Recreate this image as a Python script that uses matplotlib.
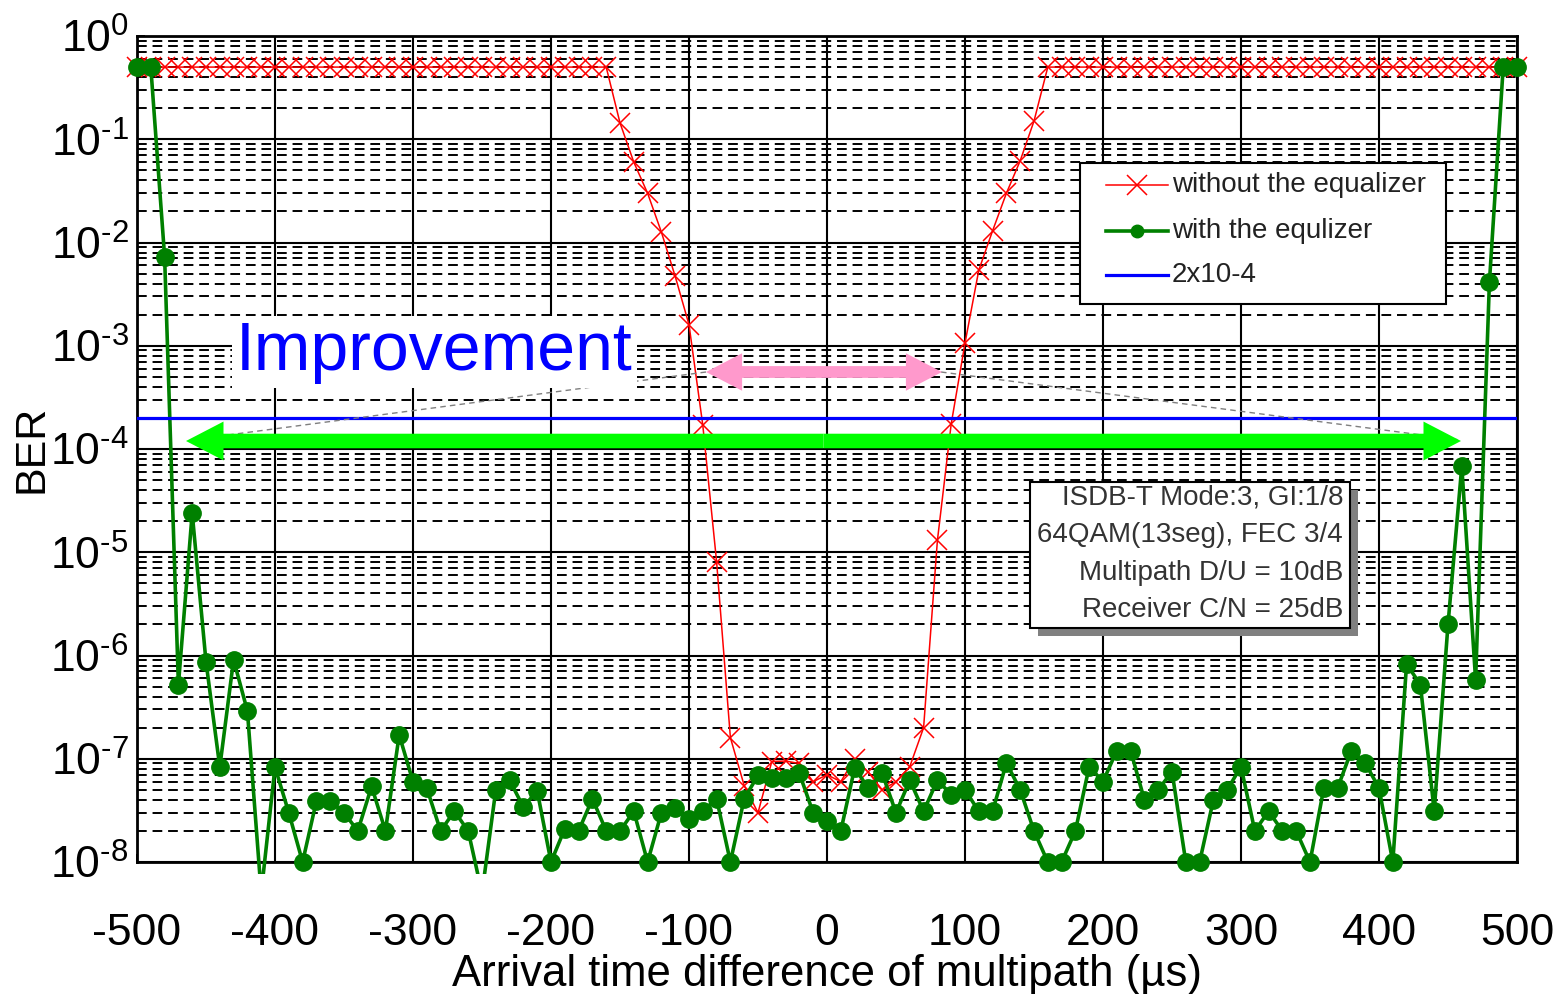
import numpy as np
import matplotlib
matplotlib.use('Agg')
import matplotlib.pyplot as plt
from matplotlib.patches import FancyArrowPatch, Rectangle
from matplotlib.lines import Line2D
from matplotlib.ticker import FixedLocator, NullLocator, LogLocator, NullFormatter

plt.rcParams['font.family'] = ['Liberation Sans', 'DejaVu Sans']
plt.rcParams['mathtext.fontset'] = 'custom'
plt.rcParams['mathtext.rm'] = 'Liberation Sans'
plt.rcParams['mathtext.it'] = 'Liberation Sans:italic'
plt.rcParams['mathtext.bf'] = 'Liberation Sans:bold'
plt.rcParams['mathtext.default'] = 'regular'

# ---------------- data ----------------
delay_us = [-500, -490, -480, -470, -460, -450, -440, -430, -420, -410,
            -400, -390, -380, -370, -360, -350, -340, -330, -320, -310,
            -300, -290, -280, -270, -260, -250, -240, -230, -220, -210,
            -200, -190, -180, -170, -160, -150, -140, -130, -120, -110,
            -100, -90, -80, -70, -60, -50, -40, -30, -20, -10,
            0, 10, 20, 30, 40, 50, 60, 70, 80, 90,
            100, 110, 120, 130, 140, 150, 160, 170, 180, 190,
            200, 210, 220, 230, 240, 250, 260, 270, 280, 290,
            300, 310, 320, 330, 340, 350, 360, 370, 380, 390,
            400, 410, 420, 430, 440, 450, 460, 470, 480, 490, 500]

ber_without_eq = [0.5, 0.5, 0.5, 0.5, 0.5, 0.5, 0.5, 0.5, 0.5, 0.5,
                  0.5, 0.5, 0.5, 0.5, 0.5, 0.5, 0.5, 0.5, 0.5, 0.5,
                  0.5, 0.5, 0.5, 0.5, 0.5, 0.5, 0.5, 0.5, 0.5, 0.5,
                  0.5, 0.5, 0.5, 0.5, 0.5, 0.144, 0.060, 0.030, 0.0126, 0.0047,
                  0.0016, 1.7e-4, 8.1e-6, 1.6e-7, 5.5e-8, 3.0e-8, 9.4e-8, 9.5e-8, 9.0e-8, 6.0e-8,
                  7.0e-8, 6.0e-8, 1.0e-7, 7.4e-8, 5.0e-8, 6.0e-8, 8.4e-8, 2.0e-7, 1.3e-5, 1.75e-4,
                  1.06e-3, 5.4e-3, 0.013, 0.030, 0.062, 0.15, 0.5, 0.5, 0.5, 0.5,
                  0.5, 0.5, 0.5, 0.5, 0.5, 0.5, 0.5, 0.5, 0.5, 0.5,
                  0.5, 0.5, 0.5, 0.5, 0.5, 0.5, 0.5, 0.5, 0.5, 0.5,
                  0.5, 0.5, 0.5, 0.5, 0.5, 0.5, 0.5, 0.5, 0.5, 0.5, 0.5]

# values below 1e-8 (off the chart bottom) are drawn only as a line going down
ber_with_eq = [0.5, 0.5, 7.3e-3, 5.2e-7, 2.4e-5, 8.7e-7, 8.3e-8, 9.1e-7, 2.9e-7, 5e-9,
               8.3e-8, 3.0e-8, 1.0e-8, 3.9e-8, 3.9e-8, 3.0e-8, 2.0e-8, 5.4e-8, 2.0e-8, 1.7e-7,
               6.0e-8, 5.2e-8, 2.0e-8, 3.1e-8, 2.0e-8, 5e-9, 5.0e-8, 6.2e-8, 3.4e-8, 4.9e-8,
               1.0e-8, 2.1e-8, 2.0e-8, 4.1e-8, 2.0e-8, 2.0e-8, 3.1e-8, 1.0e-8, 3.0e-8, 3.3e-8,
               2.6e-8, 3.1e-8, 4.1e-8, 1.0e-8, 4.1e-8, 6.9e-8, 6.5e-8, 6.5e-8, 7.2e-8, 3.0e-8,
               2.5e-8, 2.0e-8, 8.1e-8, 5.2e-8, 7.2e-8, 3.0e-8, 6.2e-8, 3.1e-8, 6.2e-8, 4.5e-8,
               5.0e-8, 3.1e-8, 3.1e-8, 9.1e-8, 5.0e-8, 2.0e-8, 1.0e-8, 1.0e-8, 2.0e-8, 8.4e-8,
               6.0e-8, 1.2e-7, 1.2e-7, 4.0e-8, 5.0e-8, 7.5e-8, 1.0e-8, 1.0e-8, 4.0e-8, 5.0e-8,
               8.4e-8, 2.0e-8, 3.1e-8, 2.0e-8, 2.0e-8, 1.0e-8, 5.2e-8, 5.2e-8, 1.2e-7, 9.1e-8,
               5.2e-8, 1.0e-8, 8.3e-7, 5.2e-7, 3.1e-8, 2.0e-6, 6.8e-5, 5.8e-7, 4.1e-3, 0.5, 0.5]

threshold_ber = 2e-4
threshold_x = [-500, 500]

series_labels = ['without the equalizer', 'with the equlizer', '2x10-4']
xtick_values = [-500, -400, -300, -200, -100, 0, 100, 200, 300, 400, 500]
xtick_labels = ['-500', '-400', '-300', '-200', '-100', '0', '100', '200', '300', '400', '500']
ytick_exponents = [0, -1, -2, -3, -4, -5, -6, -7, -8]
info_lines = ['ISDB-T Mode:3, GI:1/8', '64QAM(13seg), FEC 3/4',
              'Multipath D/U = 10dB', 'Receiver C/N = 25dB']
annotation_text = 'Improvement'

# ---------------- layout ----------------
W, H = 1566, 994
fig = plt.figure(figsize=(W / 100, H / 100), dpi=100)
def fx(px):
    return px / W
def fy(py):
    return 1 - py / H

ax = fig.add_axes([fx(137), fy(862), fx(1517) - fx(137), fy(36) - fy(862)])
ax.set_yscale('log', nonpositive='clip')
ax.set_xlim(-500, 500)
ax.set_ylim(1e-8, 1)

# grid
ax.xaxis.set_major_locator(FixedLocator(xtick_values))
ax.xaxis.set_minor_locator(NullLocator())
ax.yaxis.set_major_locator(FixedLocator([10.0 ** e for e in ytick_exponents]))
ax.yaxis.set_minor_locator(LogLocator(base=10, subs=[2, 3, 4, 5, 6, 7, 8, 9], numticks=20))
ax.yaxis.set_minor_formatter(NullFormatter())
ax.set_xticklabels(xtick_labels)
ax.set_yticklabels([r'$10^{\text{%d}}$' % e for e in ytick_exponents])
ax.grid(True, which='major', axis='both', color='black', linewidth=1.5, linestyle='-')
ax.grid(True, which='minor', axis='y', color='black', linewidth=1.4, linestyle=(0, (5.0, 3.0)))
ax.set_axisbelow(True)
ax.tick_params(axis='both', which='major', direction='in', length=6, width=1.4,
               labelsize=32, colors='black')
ax.tick_params(axis='x', pad=37)
ax.tick_params(axis='y', pad=6)
ax.tick_params(axis='y', which='minor', length=0)
for sp in ax.spines.values():
    sp.set_linewidth(2.0)

ax.set_xlabel('Arrival time difference of multipath (\u00b5s)', fontsize=31.5, labelpad=0)
ax.set_ylabel('BER', fontsize=31, labelpad=-1)

# extended clip region (slightly beyond the axes like the original)
clip_rect = Rectangle((-0.03, -0.015), 1.06, 1.06, transform=ax.transAxes,
                      facecolor='none', edgecolor='none')
ax.add_patch(clip_rect)

on_chart = [v >= 1e-8 for v in ber_with_eq]
red_style = dict(color='#ff0000', linewidth=1.1, marker='x', markersize=14, markeredgewidth=1.1)
grn_style = dict(color='#008000', linewidth=2.6, marker='o', markersize=12.5, markeredgewidth=1.0)
blu_style = dict(color='#0000ff', linewidth=2.3)
l_red, = ax.plot(delay_us, ber_without_eq, zorder=3, label=series_labels[0], **red_style)
l_grn, = ax.plot(delay_us, ber_with_eq, zorder=4, markevery=on_chart,
                 label=series_labels[1], **grn_style)
l_blu, = ax.plot(threshold_x, [threshold_ber, threshold_ber], zorder=5,
                 label=series_labels[2], **blu_style)
for ln in (l_red, l_grn):
    ln.set_clip_path(clip_rect)

# pixel -> data helpers for annotation layout
def dx(px):
    return (px - 137) / 1.38 - 500
def dy(py):
    return 10 ** (-(py - 36) / 103.25)

# grey dashed callout lines
ax.plot([dx(706), dx(190)], [dy(372), dy(440)], color='#7f7f7f', linewidth=1.0,
        linestyle=(0, (4, 3)), zorder=6)
ax.plot([dx(941), dx(1460)], [dy(372), dy(440)], color='#7f7f7f', linewidth=1.0,
        linestyle=(0, (4, 3)), zorder=6)

def double_arrow(x0, x1, y, color, tail, head_w, head_l):
    xm = 0.5 * (x0 + x1)
    for xe in (x0, x1):
        a = FancyArrowPatch((xm, y), (xe, y), transform=ax.transData,
                            arrowstyle='simple,head_length=%g,head_width=%g,tail_width=%g'
                            % (head_l, head_w, tail),
                            mutation_scale=1, color=color, linewidth=0,
                            shrinkA=0, shrinkB=0, zorder=7)
        ax.add_patch(a)

double_arrow(dx(186), dx(1461), dy(441), '#00ff00', 10.5, 28, 27)
double_arrow(dx(706), dx(942), dy(372), '#ff99cc', 8.5, 27, 26)

# Improvement text
fig.text(fx(236), fy(352), annotation_text, fontsize=49, color='#0000ff',
         ha='left', va='center', zorder=10,
         bbox=dict(facecolor='white', edgecolor='none', pad=3))

# legend box (MATLAB-like layout)
lx0, ly0, lx1, ly1 = 1080, 163, 1446, 304
fig.patches.append(Rectangle((fx(lx0), fy(ly1)), fx(lx1) - fx(lx0), fy(ly0) - fy(ly1),
                             transform=fig.transFigure, facecolor='white',
                             edgecolor='black', linewidth=1.5, zorder=20))
row_y = [185, 231, 275]
styles = [red_style, dict(grn_style, markersize=9), blu_style]
for yy, lab, st in zip(row_y, series_labels, styles):
    st_line = {k: v for k, v in st.items() if k not in ('marker', 'markersize', 'markeredgewidth')}
    fig.add_artist(Line2D([fx(1106), fx(1168)], [fy(yy), fy(yy)],
                          transform=fig.transFigure, zorder=21, **st_line))
    if 'marker' in st:
        fig.add_artist(Line2D([fx(1137)], [fy(yy)], transform=fig.transFigure,
                              zorder=22, linestyle='none', **{k: v for k, v in st.items()
                                                              if k != 'linewidth'}))
    fig.text(fx(1172), fy(yy), lab, fontsize=20, color='#222222',
             ha='left', va='center', zorder=23)

# info box with shadow
bx0, by0, bx1, by1 = 1030, 482, 1350, 628
shadow = Rectangle((fx(bx0 + 8), fy(by1 + 8)), fx(bx1) - fx(bx0), fy(by0) - fy(by1),
                   transform=fig.transFigure, facecolor='#808080', edgecolor='none', zorder=21)
box = Rectangle((fx(bx0), fy(by1)), fx(bx1) - fx(bx0), fy(by0) - fy(by1),
                transform=fig.transFigure, facecolor='white', edgecolor='black',
                linewidth=1.5, zorder=22)
fig.patches.extend([shadow, box])
for i, line in enumerate(info_lines):
    fig.text(fx(1343), fy(498 + i * 37.3), line, fontsize=20, color='#333333',
             ha='right', va='center', zorder=23)

fig.savefig('out.png', dpi=100)
